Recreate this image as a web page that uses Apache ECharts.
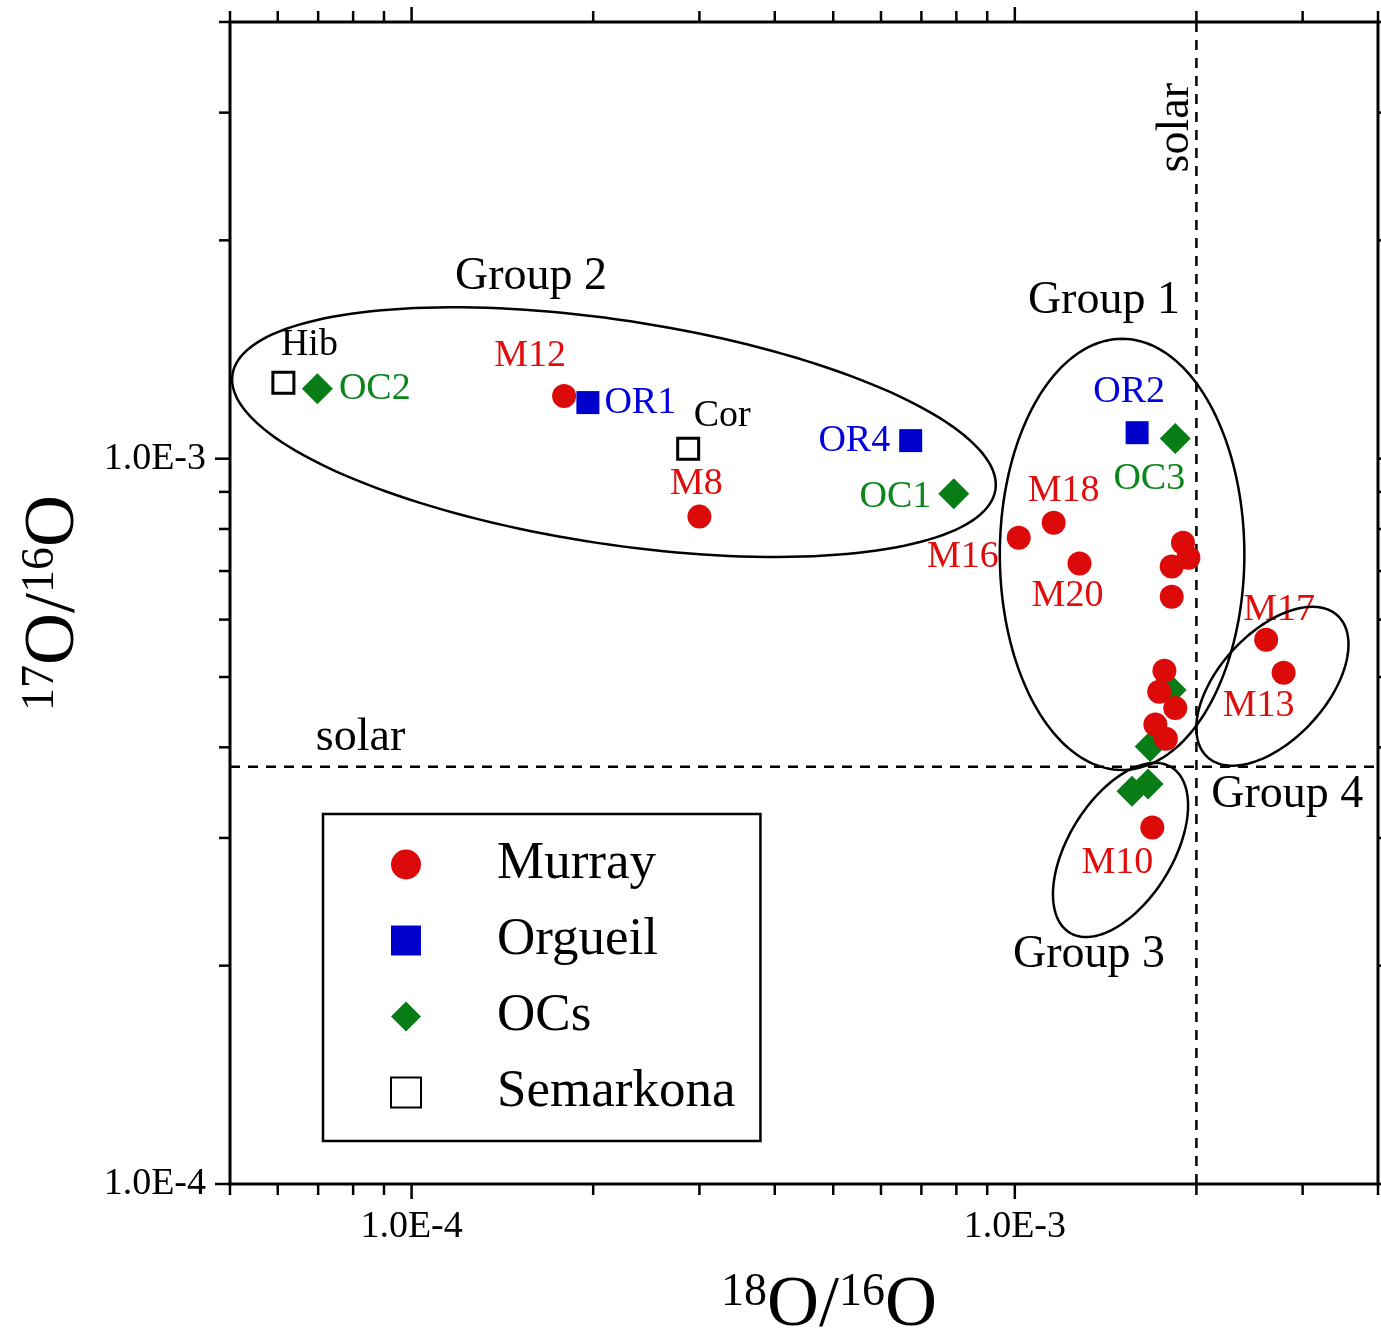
<!DOCTYPE html>
<html lang="en">
<head>
<meta charset="UTF-8">
<title>17O/16O vs 18O/16O</title>
<style>
  *{margin:0;padding:0;}
  #main{width:1381px;height:1338px;}
</style>
</head>
<body>
<div id="main"></div>
<script src="https://cdn.jsdelivr.net/npm/echarts@6/dist/echarts.min.js"></script>
<script>
// [18O/16O, 17O/16O, label]
var murray = [
  [1.79e-4, 1.22e-3, 'M12'],
  [3.00e-4, 8.32e-4, 'M8'],
  [1.015e-3, 7.78e-4, 'M16'],
  [1.16e-3, 8.16e-4, 'M18'],
  [1.28e-3, 7.17e-4, 'M20'],
  [1.90e-3, 7.66e-4, ''],
  [1.94e-3, 7.30e-4, ''],
  [1.82e-3, 7.10e-4, ''],
  [1.82e-3, 6.45e-4, ''],
  [1.77e-3, 5.10e-4, ''],
  [1.735e-3, 4.77e-4, ''],
  [1.845e-3, 4.53e-4, ''],
  [1.71e-3, 4.30e-4, ''],
  [1.78e-3, 4.11e-4, ''],
  [2.61e-3, 5.63e-4, 'M17'],
  [2.79e-3, 5.07e-4, 'M13'],
  [1.69e-3, 3.10e-4, 'M10']
];
var orgueil = [
  [1.96e-4, 1.195e-3, 'OR1'],
  [6.72e-4, 1.059e-3, 'OR4'],
  [1.595e-3, 1.086e-3, 'OR2']
];
var ocs = [
  [6.98e-5, 1.249e-3, 'OC2'],
  [7.92e-4, 8.95e-4, 'OC1'],
  [1.845e-3, 1.066e-3, 'OC3'],
  [1.816e-3, 4.80e-4, ''],
  [1.676e-3, 4.01e-4, ''],
  [1.564e-3, 3.48e-4, ''],
  [1.663e-3, 3.56e-4, '']
];
var semarkona = [
  [6.13e-5, 1.273e-3, 'Hib'],
  [2.874e-4, 1.032e-3, 'Cor']
];

var solarX = 2.0e-3;
var solarY = 3.76e-4;

// group ellipses: centre (data) and two half-axis vectors in log10 decades
var groupNames = ['Group 2', 'Group 1', 'Group 3', 'Group 4'];
var ellipseCentres = [[2.165e-4, 1.088e-3], [1.506e-3, 7.38e-4], [1.497e-3, 2.888e-4], [2.673e-3, 4.856e-4]];
var ellipseAxes = [
  [[0.6324, -0.0794], [-0.0278, -0.1527]],
  [[0, -0.2972], [-0.2027, 0]],
  [[0.0844, 0.1140], [0.0736, -0.0376]],
  [[0.1079, 0.0975], [0.0653, -0.0499]]
];
var groupLabelAt = [[1.577e-4, 1.782e-3], [1.405e-3, 1.652e-3], [1.327e-3, 2.07e-4], [2.83e-3, 3.44e-4]];
var solarLabelAt = [[8.23e-5, 4.12e-4], [1.852e-3, 2.86e-3]];

var xTickValues = [5e-5, 6e-5, 7e-5, 8e-5, 9e-5, 1e-4, 2e-4, 3e-4, 4e-4, 5e-4, 6e-4, 7e-4, 8e-4, 9e-4, 1e-3, 2e-3, 3e-3, 4e-3];
var yTickValues = [1e-4, 2e-4, 3e-4, 4e-4, 5e-4, 6e-4, 7e-4, 8e-4, 9e-4, 1e-3, 2e-3, 3e-3, 4e-3];
var majorTicks = [1e-4, 1e-3];

var FONT = '"Liberation Serif", "Times New Roman", serif';

// label placement: [position, offset]
var labelPlace = {
  Hib: ['top', [26, -2]], OC2: ['right', [1, 0]], M12: ['top', [-34, -4]],
  OR1: ['right', [0, 0]], Cor: ['top', [34, 3]], M8: ['top', [-3, 3]],
  OR4: ['left', [-4, 0]], OC1: ['left', [-2, 3]], OR2: ['top', [-8, -5]],
  OC3: ['bottom', [-26, 1]], M18: ['top', [10, 4]], M16: ['left', [-3, 19]],
  M20: ['bottom', [-12, -3]], M17: ['top', [13, 6]], M13: ['bottom', [-25, -3]],
  M10: ['bottom', [-35, -1]]
};

function isMajor(v) {
  for (var i = 0; i < majorTicks.length; i++) {
    if (Math.abs(v / majorTicks[i] - 1) < 1e-6) return true;
  }
  return false;
}

function pointSeries(name, rows, symbol, size, itemStyle, textColor, z) {
  itemStyle.opacity = 1;
  return {
    name: name,
    type: 'scatter',
    symbol: symbol,
    symbolSize: size,
    z: z,
    itemStyle: itemStyle,
    data: rows.map(function (r) {
      var p = labelPlace[r[2]];
      return {
        value: [r[0], r[1]],
        name: r[2],
        label: p ? { show: true, position: p[0], offset: p[1] } : { show: false }
      };
    }),
    label: {
      formatter: '{b}',
      color: textColor,
      opacity: 1,
      fontSize: 38,
      fontFamily: FONT
    },
    emphasis: { disabled: true }
  };
}

function tickFormatter(v) {
  var e = Math.log10(v);
  if (Math.abs(e - Math.round(e)) > 1e-6) return '';
  return '1.0E' + Math.round(e);
}

var axisNameRich = {
  b: { fontSize: 72, fontFamily: FONT, color: '#000' },
  s: { fontSize: 46, fontFamily: FONT, color: '#000', verticalAlign: 'top' }
};

var myChart = echarts.init(document.getElementById('main'));

var option = {
  animation: false,
  backgroundColor: '#fff',
  grid: {
    left: 230, right: 3, top: 22, bottom: 154,
    outerBoundsMode: 'none',
    containLabel: false,
    show: true, borderColor: '#000', borderWidth: 3
  },
  legend: {
    orient: 'vertical',
    left: 323,
    top: 814,
    padding: [24, 25, 22, 67],
    itemGap: 23,
    itemWidth: 30,
    itemHeight: 30,
    borderColor: '#000',
    borderWidth: 2.5,
    backgroundColor: '#fff',
    textStyle: { fontSize: 53, fontFamily: FONT, color: '#000', padding: [0, 0, 0, 71] },
    data: ['Murray', 'Orgueil', 'OCs', 'Semarkona']
  },
  xAxis: {
    type: 'log',
    logBase: 10,
    min: 5e-5,
    max: 4e-3,
    splitLine: { show: false },
    axisTick: { show: false },
    axisLine: { show: false },
    axisLabel: { formatter: tickFormatter, fontSize: 38, fontFamily: FONT, color: '#000', margin: 24 },
    name: '{s|18}{b|O/}{s|16}{b|O}',
    nameLocation: 'middle',
    nameGap: 86,
    nameTextStyle: { rich: axisNameRich, padding: [0, 0, 0, 50] }
  },
  yAxis: {
    type: 'log',
    logBase: 10,
    min: 1e-4,
    max: 4e-3,
    splitLine: { show: false },
    axisTick: { show: false },
    axisLine: { show: false },
    axisLabel: { formatter: tickFormatter, fontSize: 38, fontFamily: FONT, color: '#000', margin: 24 },
    name: '{s|17}{b|O/}{s|16}{b|O}',
    nameLocation: 'middle',
    nameRotate: 90,
    nameGap: 140,
    nameTextStyle: { rich: axisNameRich }
  },
  series: [
    pointSeries('Murray', murray, 'circle', 24, { color: '#dd0a0a' }, '#e00d0d', 6),
    pointSeries('Orgueil', orgueil, 'rect', 23, { color: '#0000cc' }, '#0000dd', 5),
    pointSeries('OCs', ocs, 'diamond', 31, { color: '#087d15' }, '#0a861a', 4),
    pointSeries('Semarkona', semarkona, 'rect', 21, { color: '#fff', borderColor: '#000', borderWidth: 3 }, '#000', 5),
    {
      type: 'custom',
      name: 'solar',
      z: 3,
      silent: true,
      data: [[solarX, solarY]],
      renderItem: function (params, api) {
        var cs = params.coordSys;
        var p = api.coord([api.value(0), api.value(1)]);
        var st = { stroke: '#000', lineWidth: 2.5, lineDash: [10, 8] };
        return {
          type: 'group',
          children: [
            { type: 'line', shape: { x1: p[0], y1: cs.y, x2: p[0], y2: cs.y + cs.height }, style: st },
            { type: 'line', shape: { x1: cs.x, y1: p[1], x2: cs.x + cs.width, y2: p[1] }, style: st }
          ]
        };
      }
    },
    {
      type: 'custom',
      name: 'ellipses',
      z: 7,
      silent: true,
      data: ellipseCentres,
      renderItem: function (params, api) {
        var i = params.dataIndex;
        var c = ellipseCentres[i], e = ellipseAxes[i];
        var lu = Math.log10(c[0]), lv = Math.log10(c[1]);
        var pts = [];
        for (var k = 0; k < 180; k++) {
          var t = 2 * Math.PI * k / 180;
          var u = lu + Math.cos(t) * e[0][0] + Math.sin(t) * e[1][0];
          var v = lv + Math.cos(t) * e[0][1] + Math.sin(t) * e[1][1];
          pts.push(api.coord([Math.pow(10, u), Math.pow(10, v)]));
        }
        return { type: 'polygon', shape: { points: pts }, style: { fill: 'none', stroke: '#000', lineWidth: 2.5 } };
      }
    },
    {
      type: 'custom',
      name: 'notes',
      z: 8,
      silent: true,
      data: groupLabelAt.concat(solarLabelAt),
      renderItem: function (params, api) {
        var i = params.dataIndex;
        var p = api.coord([api.value(0), api.value(1)]);
        var isSolar = i >= groupNames.length;
        return {
          type: 'text',
          x: p[0], y: p[1],
          rotation: (isSolar && i === groupNames.length + 1) ? Math.PI / 2 : 0,
          style: {
            text: isSolar ? 'solar' : groupNames[i],
            fontSize: 46, fontFamily: FONT, fill: '#000',
            align: 'center', verticalAlign: 'middle'
          }
        };
      }
    },
    {
      type: 'custom',
      name: 'xticks',
      silent: true,
      z: 9,
      data: xTickValues.map(function (v) { return [v, 1e-3]; }),
      renderItem: function (params, api) {
        var cs = params.coordSys;
        var v = xTickValues[params.dataIndex];
        var x = api.coord([v, 1e-3])[0];
        var len = isMajor(v) ? 15 : 11;
        var st = { stroke: '#000', lineWidth: 2.5 };
        return {
          type: 'group',
          children: [
            { type: 'line', shape: { x1: x, y1: cs.y + cs.height, x2: x, y2: cs.y + cs.height + len }, style: st },
            { type: 'line', shape: { x1: x, y1: cs.y, x2: x, y2: cs.y - len }, style: st }
          ]
        };
      }
    },
    {
      type: 'custom',
      name: 'yticks',
      silent: true,
      z: 9,
      data: yTickValues.map(function (v) { return [1e-3, v]; }),
      renderItem: function (params, api) {
        var cs = params.coordSys;
        var v = yTickValues[params.dataIndex];
        var y = api.coord([1e-3, v])[1];
        var len = isMajor(v) ? 15 : 11;
        var st = { stroke: '#000', lineWidth: 2.5 };
        return {
          type: 'group',
          children: [
            { type: 'line', shape: { x1: cs.x, y1: y, x2: cs.x - len, y2: y }, style: st },
            { type: 'line', shape: { x1: cs.x + cs.width, y1: y, x2: cs.x + cs.width + len, y2: y }, style: st }
          ]
        };
      }
    }
  ]
};

myChart.setOption(option);
</script>
</body>
</html>
